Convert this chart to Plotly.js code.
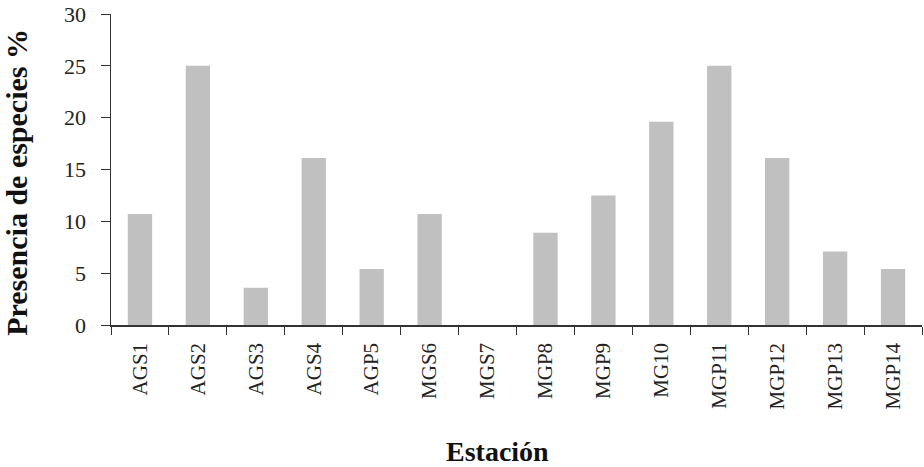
<!DOCTYPE html>
<html><head><meta charset="utf-8">
<script src="https://cdn.plot.ly/plotly-3.0.1.min.js"></script>
<style>html,body{margin:0;padding:0;background:#fff}</style>
</head><body>
<div id="chart" style="width:924px;height:467px"></div>
<script>
const estaciones = ["AGS1","AGS2","AGS3","AGS4","AGP5","MGS6","MGS7","MGP8","MGP9","MG10","MGP11","MGP12","MGP13","MGP14"];
const presencia = [10.7, 25, 3.6, 16.1, 5.4, 10.7, 0, 8.9, 12.5, 19.6, 25, 16.1, 7.1, 5.4];
const yTicks = [0,5,10,15,20,25,30];
const xTitle = "Estación";
const yTitle = "Presencia de especies %";

const fontFam = "'Liberation Serif', 'DejaVu Serif', serif";
Plotly.newPlot('chart', [{
  type: 'bar', x: estaciones, y: presencia,
  marker: {color: '#c0c0c0', line: {width: 0}},
  hoverinfo: 'skip'
}], {
  width: 924, height: 467,
  margin: {l: 111, r: 2, t: 14, b: 142},
  paper_bgcolor: '#fff', plot_bgcolor: '#fff',
  bargap: 0.58,
  showlegend: false,
  font: {family: fontFam, color: '#222', size: 21},
  xaxis: {
    type: 'category', tickangle: -90, tickson: 'boundaries',
    ticks: 'outside', ticklen: 8, tickcolor: '#333', tickwidth: 1,
    showline: true, linecolor: '#333', linewidth: 1.5, showgrid: false,
    ticklabelstandoff: 8,
    tickfont: {family: fontFam, size: 21, color: '#222'}
  },
  yaxis: {
    range: [0, 30], tickvals: yTicks, ticktext: yTicks.map(String),
    ticks: 'outside', ticklen: 9, tickcolor: '#333', tickwidth: 1,
    showline: true, linecolor: '#333', linewidth: 1.5, showgrid: false, zeroline: false,
    ticklabelstandoff: 10,
    tickfont: {family: fontFam, size: 22, color: '#222'}
  },
  annotations: [
    {text: '<b>' + xTitle + '</b>', xref: 'paper', yref: 'paper', x: 0.477, y: -0.408,
     xanchor: 'center', yanchor: 'middle', showarrow: false,
     font: {family: fontFam, size: 28, color: '#111'}},
    {text: '<b>' + yTitle + '</b>', xref: 'paper', yref: 'paper', x: -0.116, y: 0.46,
     xanchor: 'center', yanchor: 'middle', showarrow: false, textangle: -90,
     font: {family: fontFam, size: 30, color: '#111'}}
  ]
}, {staticPlot: true});
</script>
</body></html>
